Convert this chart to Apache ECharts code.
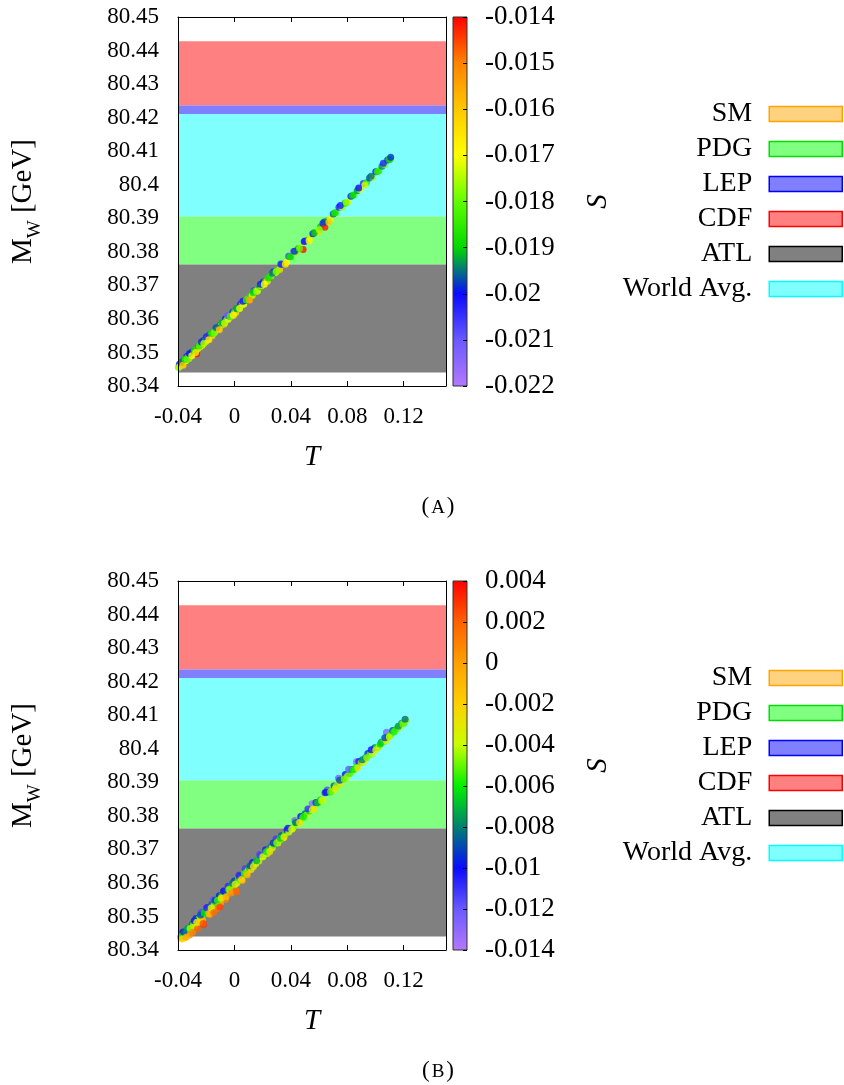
<!DOCTYPE html>
<html><head><meta charset="utf-8">
<script src="https://cdn.jsdelivr.net/npm/echarts@6/dist/echarts.min.js"></script>
<style>html,body{margin:0;padding:0;background:#fff}#c{width:844px;height:1085px}</style>
</head><body><div id="c"></div><script>
const FONT = '"Liberation Serif", "Times New Roman", serif';

// ---- axis ranges / ticks ----
const T_MIN = -0.04, T_MAX = 0.15, T_STEP = 0.04;
const M_MIN = 80.34, M_MAX = 80.45, M_STEP = 0.01;
const S_A = [-0.022, -0.014], S_A_STEP = 0.001;
const S_B = [-0.014, 0.004], S_B_STEP = 0.002;

// ---- bands (visible extents, GeV) ----
const bandNames = ['SM', 'PDG', 'LEP', 'CDF', 'ATL', 'World Avg.'];
const bandLow  = [null, 80.3762, 80.4211, 80.4237, 80.3440, 80.3906];
const bandHigh = [null, 80.3906, 80.4237, 80.4428, 80.3762, 80.4211];
const bandFill = ['#ffd280', '#80ff80', '#8080ff', '#ff8080', '#808080', '#80ffff'];
const bandEdge = ['#ffa500', '#00e000', '#0000ff', '#ff0000', '#000000', '#00ffff'];

// ---- palettes (bottom -> top of colour bar) ----
const paletteA = ['#b478ff', '#6a5aff', '#0a0aff', '#00d800', '#60ff00', '#ffff00', '#ffc800', '#ff8200', '#ff0000'];
const paletteB = ['#b478ff', '#6a5aff', '#0a0aff', '#008070', '#00f000', '#c8ff00', '#ffd000', '#ffa000', '#ff6000', '#ff0000'];

// ---- scatter points [T, M_W, S] ----
const scatterA = [
[-0.0398,80.3456,-0.0178],[-0.0390,80.3465,-0.0201],[-0.0383,80.3460,-0.0172],[-0.0375,80.3466,-0.0188],
[-0.0368,80.3464,-0.0166],[-0.0360,80.3476,-0.0196],[-0.0352,80.3475,-0.0180],[-0.0345,80.3475,-0.0170],
[-0.0338,80.3488,-0.0203],[-0.0330,80.3485,-0.0185],[-0.0322,80.3482,-0.0163],[-0.0315,80.3493,-0.0192],
[-0.0307,80.3492,-0.0176],[-0.0298,80.3502,-0.0199],[-0.0290,80.3497,-0.0168],[-0.0282,80.3504,-0.0183],
[-0.0268,80.3496,-0.0141],[-0.0262,80.3510,-0.0174],[-0.0255,80.3518,-0.0194],[-0.0246,80.3516,-0.0171],
[-0.0238,80.3523,-0.0186],[-0.0230,80.3521,-0.0165],[-0.0221,80.3535,-0.0201],[-0.0212,80.3533,-0.0179],
[-0.0203,80.3533,-0.0169],[-0.0195,80.3542,-0.0190],[-0.0186,80.3541,-0.0174],[-0.0177,80.3552,-0.0197],
[-0.0168,80.3551,-0.0183],[-0.0158,80.3550,-0.0162],[-0.0149,80.3560,-0.0188],[-0.0140,80.3560,-0.0173],
[-0.0131,80.3573,-0.0204],[-0.0122,80.3570,-0.0181],[-0.0112,80.3571,-0.0167],[-0.0103,80.3581,-0.0193],
[-0.0093,80.3581,-0.0177],[-0.0084,80.3586,-0.0186],[-0.0074,80.3584,-0.0158],[-0.0064,80.3600,-0.0200],
[-0.0054,80.3598,-0.0180],[-0.0044,80.3599,-0.0171],[-0.0034,80.3608,-0.0191],[-0.0023,80.3608,-0.0175],
[-0.0012,80.3620,-0.0198],[-0.0001,80.3620,-0.0184],[0.0010,80.3619,-0.0164],[0.0021,80.3630,-0.0189],
[0.0032,80.3632,-0.0176],[0.0043,80.3644,-0.0202],[0.0055,80.3643,-0.0182],[0.0066,80.3644,-0.0170],
[0.0078,80.3655,-0.0194],[0.0090,80.3657,-0.0178],[0.0102,80.3657,-0.0160],[0.0114,80.3668,-0.0187],
[0.0126,80.3670,-0.0173],[0.0139,80.3684,-0.0205],[0.0152,80.3683,-0.0181],[0.0165,80.3685,-0.0168],
[0.0178,80.3695,-0.0192],[0.0191,80.3698,-0.0176],[0.0205,80.3710,-0.0199],[0.0219,80.3711,-0.0185],
[0.0233,80.3712,-0.0165],[0.0247,80.3724,-0.0190],[0.0261,80.3728,-0.0179],[0.0276,80.3740,-0.0201],
[0.0291,80.3738,-0.0172],[0.0306,80.3747,-0.0187],[0.0321,80.3747,-0.0162],[0.0337,80.3762,-0.0195],
[0.0353,80.3766,-0.0182],[0.0369,80.3769,-0.0170],[0.0385,80.3787,-0.0206],[0.0401,80.3785,-0.0184],
[0.0418,80.3801,-0.0213],[0.0435,80.3798,-0.0177],[0.0452,80.3809,-0.0193],[0.0470,80.3811,-0.0167],
[0.0487,80.3807,-0.0141],[0.0503,80.3834,-0.0216],[0.0520,80.3835,-0.0188],[0.0538,80.3840,-0.0174],
[0.0556,80.3854,-0.0199],[0.0574,80.3857,-0.0180],[0.0592,80.3859,-0.0163],[0.0610,80.3874,-0.0191],
[0.0628,80.3885,-0.0202],[0.0641,80.3873,-0.0142],[0.0660,80.3893,-0.0185],[0.0680,80.3898,-0.0171],
[0.0700,80.3913,-0.0196],[0.0720,80.3917,-0.0183],[0.0741,80.3933,-0.0203],[0.0762,80.3933,-0.0176],
[0.0783,80.3945,-0.0190],[0.0804,80.3949,-0.0168],[0.0826,80.3966,-0.0199],[0.0848,80.3970,-0.0181],
[0.0870,80.3982,-0.0193],[0.0892,80.3986,-0.0172],[0.0914,80.4004,-0.0204],[0.0936,80.4007,-0.0186],
[0.0958,80.4020,-0.0197],[0.0980,80.4022,-0.0175],[0.1002,80.4039,-0.0201],[0.1024,80.4042,-0.0184],
[0.1046,80.4055,-0.0194],[0.1066,80.4060,-0.0179],[0.1086,80.4074,-0.0202],[0.1105,80.4076,-0.0183],
[-0.0394,80.3456,-0.0176],[-0.0379,80.3470,-0.0195],[-0.0364,80.3462,-0.0160],[-0.0349,80.3480,-0.0187],
[-0.0334,80.3479,-0.0181],[-0.0318,80.3497,-0.0200],[-0.0302,80.3490,-0.0171],[-0.0286,80.3506,-0.0190],
[-0.0275,80.3500,-0.0165],[-0.0250,80.3519,-0.0184],[-0.0234,80.3531,-0.0198],[-0.0217,80.3527,-0.0175],
[-0.0199,80.3547,-0.0203],[-0.0181,80.3538,-0.0166],[-0.0163,80.3557,-0.0189],[-0.0145,80.3558,-0.0179],
[-0.0126,80.3574,-0.0196],[-0.0107,80.3568,-0.0161],[-0.0088,80.3589,-0.0192],[-0.0069,80.3588,-0.0174],
[-0.0049,80.3610,-0.0210],[-0.0029,80.3608,-0.0183],[-0.0007,80.3611,-0.0168],[0.0015,80.3631,-0.0193],
[0.0037,80.3631,-0.0172],[0.0060,80.3653,-0.0201],[0.0084,80.3656,-0.0185],[0.0108,80.3656,-0.0155],
[0.0132,80.3679,-0.0190],[0.0158,80.3682,-0.0176],[0.0185,80.3703,-0.0199],[0.0212,80.3703,-0.0170],
[0.0240,80.3722,-0.0187],[0.0268,80.3736,-0.0194],[0.0298,80.3741,-0.0178],[0.0329,80.3764,-0.0203],
[0.0361,80.3763,-0.0165],[0.0393,80.3785,-0.0189],[0.0426,80.3802,-0.0198],[0.0461,80.3810,-0.0181],
[0.0495,80.3831,-0.0200],[0.0529,80.3833,-0.0169],[0.0565,80.3857,-0.0192],[0.0601,80.3866,-0.0177],
[0.0637,80.3889,-0.0197],[0.0670,80.3889,-0.0160],[0.0710,80.3916,-0.0188],[0.0751,80.3938,-0.0202],
[0.0793,80.3946,-0.0179],[0.0837,80.3968,-0.0190],[0.0881,80.3990,-0.0200],[0.0925,80.3999,-0.0173],
[0.0969,80.4025,-0.0195],[0.1013,80.4039,-0.0185],[0.1056,80.4064,-0.0203],[0.1096,80.4075,-0.0190],
[0.1108,80.4082,-0.0198]
];
const scatterB = [
[-0.0382,80.3437,-0.0052],[-0.0375,80.3436,-0.0031],[-0.0366,80.3453,-0.0098],[-0.0355,80.3438,-0.0012],
[-0.0346,80.3454,-0.0058],[-0.0337,80.3453,-0.0040],[-0.0328,80.3462,-0.0066],[-0.0318,80.3445,0.0006],
[-0.0309,80.3464,-0.0035],[-0.0300,80.3477,-0.0082],[-0.0290,80.3475,-0.0048],[-0.0281,80.3473,-0.0026],
[-0.0272,80.3494,-0.0104],[-0.0262,80.3463,0.0019],[-0.0253,80.3493,-0.0060],[-0.0244,80.3491,-0.0037],
[-0.0235,80.3512,-0.0115],[-0.0226,80.3490,-0.0009],[-0.0219,80.3477,0.0031],[-0.0210,80.3509,-0.0054],
[-0.0201,80.3517,-0.0072],[-0.0193,80.3526,-0.0100],[-0.0185,80.3514,-0.0029],[-0.0176,80.3506,0.0004],
[-0.0168,80.3526,-0.0046],[-0.0160,80.3537,-0.0086],[-0.0151,80.3550,-0.0120],[-0.0143,80.3533,-0.0033],
[-0.0134,80.3543,-0.0059],[-0.0125,80.3524,0.0012],[-0.0116,80.3546,-0.0041],[-0.0107,80.3562,-0.0097],
[-0.0099,80.3541,-0.0005],[-0.0090,80.3562,-0.0064],[-0.0081,80.3557,-0.0027],[-0.0072,80.3573,-0.0079],
[-0.0063,80.3551,0.0009],[-0.0054,80.3574,-0.0050],[-0.0045,80.3590,-0.0108],[-0.0036,80.3579,-0.0036],
[-0.0027,80.3577,-0.0015],[-0.0018,80.3593,-0.0068],[-0.0009,80.3592,-0.0043],[0.0000,80.3606,-0.0093],
[0.0009,80.3578,0.0015],[0.0018,80.3600,-0.0031],[0.0027,80.3610,-0.0057],[0.0037,80.3618,-0.0081],
[0.0046,80.3614,-0.0039],[0.0056,80.3607,-0.0002],[0.0066,80.3627,-0.0062],[0.0076,80.3642,-0.0112],
[0.0086,80.3630,-0.0034],[0.0096,80.3637,-0.0047],[0.0107,80.3645,-0.0072],[0.0118,80.3640,-0.0025],
[0.0129,80.3661,-0.0099],[0.0140,80.3655,-0.0052],[0.0151,80.3657,-0.0037],[0.0162,80.3667,-0.0064],
[0.0173,80.3665,-0.0032],[0.0185,80.3682,-0.0090],[0.0197,80.3678,-0.0044],[0.0209,80.3686,-0.0059],
[0.0221,80.3699,-0.0104],[0.0233,80.3688,-0.0029],[0.0245,80.3698,-0.0050],[0.0257,80.3708,-0.0076],
[0.0269,80.3705,-0.0036],[0.0282,80.3716,-0.0061],[0.0295,80.3731,-0.0111],[0.0308,80.3719,-0.0033],
[0.0321,80.3728,-0.0046],[0.0334,80.3741,-0.0085],[0.0347,80.3734,-0.0028],[0.0360,80.3745,-0.0055],
[0.0373,80.3758,-0.0096],[0.0386,80.3752,-0.0039],[0.0399,80.3763,-0.0062],[0.0412,80.3762,-0.0035],
[0.0428,80.3786,-0.0128],[0.0425,80.3770,-0.0048],[0.0440,80.3780,-0.0070],[0.0455,80.3778,-0.0031],
[0.0470,80.3798,-0.0101],[0.0485,80.3794,-0.0053],[0.0500,80.3806,-0.0082],[0.0515,80.3803,-0.0037],
[0.0530,80.3814,-0.0060],[0.0551,80.3836,-0.0131],[0.0545,80.3817,-0.0044],[0.0562,80.3820,-0.0027],
[0.0578,80.3840,-0.0094],[0.0594,80.3838,-0.0050],[0.0610,80.3847,-0.0066],[0.0626,80.3847,-0.0034],
[0.0642,80.3869,-0.0108],[0.0658,80.3877,-0.0117],[0.0674,80.3870,-0.0056],[0.0690,80.3874,-0.0039],
[0.0706,80.3889,-0.0086],[0.0722,80.3888,-0.0045],[0.0738,80.3912,-0.0124],[0.0754,80.3897,-0.0030],
[0.0770,80.3910,-0.0063],[0.0786,80.3923,-0.0098],[0.0802,80.3918,-0.0041],[0.0818,80.3926,-0.0054],
[0.0834,80.3938,-0.0081],[0.0850,80.3936,-0.0036],[0.0865,80.3961,-0.0130],[0.0866,80.3947,-0.0058],
[0.0882,80.3962,-0.0103],[0.0898,80.3958,-0.0047],[0.0914,80.3960,-0.0032],[0.0930,80.3974,-0.0072],
[0.0946,80.3986,-0.0095],[0.0962,80.3983,-0.0052],[0.0978,80.3986,-0.0038],[0.0994,80.4003,-0.0084],
[0.1010,80.4004,-0.0061],[0.1026,80.4007,-0.0043],[0.1042,80.4019,-0.0079],[0.1058,80.4021,-0.0049],
[0.1078,80.4049,-0.0127],[0.1074,80.4024,-0.0034],[0.1090,80.4036,-0.0068],[0.1106,80.4041,-0.0055],
[0.1122,80.4054,-0.0089],[0.1138,80.4052,-0.0046],[0.1154,80.4061,-0.0062],[0.1170,80.4063,-0.0039],
[0.1186,80.4076,-0.0075],[0.1202,80.4077,-0.0053],[0.1218,80.4084,-0.0044],
[-0.0378,80.3441,-0.0061],[-0.0370,80.3433,-0.0020],[-0.0360,80.3454,-0.0090],[-0.0342,80.3438,-0.0005],
[-0.0333,80.3463,-0.0075],[-0.0314,80.3464,-0.0044],[-0.0295,80.3453,0.0010],[-0.0285,80.3487,-0.0096],
[-0.0267,80.3483,-0.0039],[-0.0248,80.3483,-0.0017],[-0.0240,80.3504,-0.0088],[-0.0222,80.3479,0.0022],
[-0.0214,80.3510,-0.0063],[-0.0197,80.3526,-0.0109],[-0.0180,80.3509,-0.0011],[-0.0164,80.3525,-0.0035],
[-0.0147,80.3512,0.0016],[-0.0138,80.3548,-0.0092],[-0.0120,80.3548,-0.0056],[-0.0103,80.3528,0.0026],
[-0.0094,80.3554,-0.0031],[-0.0077,80.3576,-0.0101],[-0.0059,80.3559,-0.0008],[-0.0040,80.3580,-0.0049],
[-0.0022,80.3570,0.0005],[-0.0013,80.3599,-0.0084],[0.0005,80.3596,-0.0037],[0.0016,80.3574,0.0018],
[0.0033,80.3623,-0.0106],[0.0051,80.3610,-0.0021],[0.0071,80.3627,-0.0055],[0.0091,80.3624,-0.0010],
[0.0112,80.3651,-0.0088],[0.0135,80.3649,-0.0030],[0.0157,80.3666,-0.0070],[0.0179,80.3685,-0.0114],
[0.0203,80.3678,-0.0038],[0.0227,80.3693,-0.0059],[0.0251,80.3694,-0.0026],[0.0275,80.3719,-0.0092],
[0.0300,80.3720,-0.0047],[0.0326,80.3733,-0.0066],[0.0352,80.3737,-0.0031],[0.0379,80.3763,-0.0104],
[0.0406,80.3760,-0.0040],[0.0434,80.3780,-0.0081],[0.0462,80.3780,-0.0029],[0.0491,80.3798,-0.0058],
[0.0521,80.3820,-0.0109],[0.0553,80.3818,-0.0035],[0.0586,80.3839,-0.0073],[0.0618,80.3845,-0.0042],
[0.0650,80.3870,-0.0097],[0.0682,80.3872,-0.0051],[0.0714,80.3881,-0.0033],[0.0746,80.3906,-0.0088],
[0.0778,80.3910,-0.0047],[0.0810,80.3939,-0.0120],[0.0842,80.3937,-0.0060],[0.0874,80.3943,-0.0029],
[0.0906,80.3967,-0.0080],[0.0938,80.3973,-0.0045],[0.0970,80.3997,-0.0101],[0.1002,80.3996,-0.0036],
[0.1034,80.4014,-0.0065],[0.1066,80.4033,-0.0090],[0.1098,80.4035,-0.0041],[0.1130,80.4050,-0.0057],
[0.1162,80.4067,-0.0076],[0.1194,80.4074,-0.0049],[0.1210,80.4088,-0.0083]
];

// ---- layout ----
const PANEL_TOP = [17, 581];
const PLOT_LEFT = 178, PLOT_W = 268, PLOT_H = 369;
const CB_LEFT = 453, CB_W = 14;
const LEGEND_FIRST = 97, LEGEND_STEP = 35;

const fmt = d => v => { const r = parseFloat(v.toFixed(d)); return (r === 0 ? 0 : r).toString(); };

const grids = [], xAxes = [], yAxes = [], series = [], legends = [], visualMaps = [], graphics = [];
const axisLineStyle = { show: true, onZero: false, lineStyle: { color: '#000', width: 1 } };

[0, 1].forEach(p => {
  const top = PANEL_TOP[p];
  const gPlot = grids.length;
  grids.push({ left: PLOT_LEFT, top: top, width: PLOT_W, height: PLOT_H });
  const gCb = grids.length;
  grids.push({ left: CB_LEFT, top: top, width: CB_W, height: PLOT_H });

  const xBot = xAxes.length;
  xAxes.push({ gridIndex: gPlot, type: 'value', position: 'bottom', min: T_MIN, max: T_MAX, interval: T_STEP, z: 10,
    axisLine: axisLineStyle, axisTick: { show: true, inside: true, length: 5, lineStyle: { color: '#000' } },
    splitLine: { show: false }, showMaxLabel: false,
    axisLabel: { margin: 19, fontSize: 23, fontFamily: FONT, color: '#000',
      formatter: v => (Math.abs(v - T_MAX) < 1e-9 ? '' : fmt(2)(v)) },
    name: 'T', nameLocation: 'middle', nameGap: 57,
    nameTextStyle: { fontSize: 29, fontStyle: 'italic', fontFamily: FONT, color: '#000' } });
  xAxes.push({ gridIndex: gPlot, type: 'value', position: 'top', min: T_MIN, max: T_MAX, interval: T_STEP, z: 10,
    axisLine: axisLineStyle, axisTick: { show: true, inside: true, length: 5, lineStyle: { color: '#000' } },
    axisLabel: { show: false }, splitLine: { show: false } });
  const xCb = xAxes.length;
  xAxes.push({ gridIndex: gCb, type: 'value', min: 0, max: 1, show: false });

  const yLeft = yAxes.length;
  yAxes.push({ gridIndex: gPlot, type: 'value', position: 'left', min: M_MIN, max: M_MAX, interval: M_STEP, z: 10,
    axisLine: axisLineStyle, axisTick: { show: false }, splitLine: { show: false },
    axisLabel: { margin: 19, fontSize: 23, fontFamily: FONT, color: '#000', formatter: fmt(2) },
    name: '{m|M}{w|W}{m| [GeV]}', nameLocation: 'middle', nameGap: 133,
    nameTextStyle: { fontFamily: FONT, color: '#000', fontSize: 29,
      rich: { m: { fontSize: 29, fontFamily: FONT, lineHeight: 36, verticalAlign: 'top', color: '#000' },
              w: { fontSize: 19, fontFamily: FONT, lineHeight: 16, verticalAlign: 'bottom', color: '#000' } } } });
  yAxes.push({ gridIndex: gPlot, type: 'value', position: 'right', min: M_MIN, max: M_MAX, interval: M_STEP, z: 10,
    axisLine: axisLineStyle, axisTick: { show: false }, axisLabel: { show: false }, splitLine: { show: false } });
  const sRange = p === 0 ? S_A : S_B;
  const sStep = p === 0 ? S_A_STEP : S_B_STEP;
  const yCb = yAxes.length;
  yAxes.push({ gridIndex: gCb, type: 'value', position: 'right', min: sRange[0], max: sRange[1], interval: sStep, z: 10,
    axisLine: { show: false, onZero: false }, axisTick: { show: true, inside: true, length: 4, lineStyle: { color: '#000' } },
    splitLine: { show: false },
    axisLabel: { margin: 18, fontSize: 27, fontFamily: FONT, color: '#000', formatter: fmt(3) },
    name: 'S', nameLocation: 'middle', nameGap: 117,
    nameTextStyle: { fontSize: 29, fontStyle: 'italic', fontFamily: FONT, color: '#000' } });

  // bands
  bandNames.forEach((nm, i) => {
    const data = bandLow[i] == null ? [] : [[T_MIN, bandLow[i], T_MAX, bandHigh[i]]];
    series.push({ type: 'custom', name: nm, xAxisIndex: xBot, yAxisIndex: yLeft, z: 1,
      itemStyle: { color: bandFill[i], borderColor: bandEdge[i] },
      encode: { x: [0, 2], y: [1, 3] }, data: data, silent: true,
      renderItem: (params, api) => {
        const a = api.coord([api.value(0), api.value(3)]);
        const b = api.coord([api.value(2), api.value(1)]);
        return { type: 'rect', shape: { x: a[0], y: a[1], width: b[0] - a[0], height: b[1] - a[1] },
          style: { fill: bandFill[i] } };
      } });
    legends.push({ data: [{ name: nm, itemStyle: { color: bandFill[i], borderColor: bandEdge[i], borderWidth: 1.5 } }],
      right: 1, top: top + LEGEND_FIRST + LEGEND_STEP * i - 14, orient: 'vertical', align: 'right', padding: 0,
      itemWidth: 73, itemHeight: 15, selectedMode: false, icon: 'rect',
      textStyle: { fontSize: 28, fontFamily: FONT, color: '#000', padding: [0, 12, 0, 0] } });
  });
  // scatter
  const sIdx = series.length;
  series.push({ type: 'scatter', xAxisIndex: xBot, yAxisIndex: yLeft, z: 3, symbolSize: 7,
    data: p === 0 ? scatterA : scatterB, silent: true });
  visualMaps.push({ type: 'continuous', show: false, seriesIndex: sIdx, dimension: 2,
    min: sRange[0], max: sRange[1], inRange: { color: p === 0 ? paletteA : paletteB } });
  // colour bar
  const pal = p === 0 ? paletteA : paletteB;
  series.push({ type: 'custom', xAxisIndex: xCb, yAxisIndex: yCb, z: 2, silent: true,
    encode: { x: [0, 2], y: [1, 3] }, data: [[0, sRange[0], 1, sRange[1]]],
    renderItem: (params, api) => {
      const a = api.coord([api.value(0), api.value(3)]);
      const b = api.coord([api.value(2), api.value(1)]);
      const stops = pal.map((c, k) => ({ offset: k / (pal.length - 1), color: c }));
      return { type: 'rect', shape: { x: a[0], y: a[1], width: b[0] - a[0], height: b[1] - a[1] },
        style: { fill: new echarts.graphic.LinearGradient(0, 1, 0, 0, stops), stroke: '#333', lineWidth: 1 } };
    } });
  // caption
  graphics.push({ type: 'text', x: 438, y: top + PLOT_H + 121,
    style: { text: p === 0 ? '{p|(}{a|A}{p|)}' : '{p|(}{a|B}{p|)}', align: 'center', verticalAlign: 'middle',
      rich: { p: { fontSize: 23, fontFamily: FONT, fill: '#000' },
              a: { fontSize: 19, fontFamily: FONT, fill: '#000', padding: [2, 2, 0, 2] } } } });
});

const chart = echarts.init(document.getElementById('c'), null, { renderer: 'canvas' });
chart.setOption({
  animation: false, backgroundColor: '#fff',
  grid: grids, xAxis: xAxes, yAxis: yAxes, series: series, legend: legends,
  visualMap: visualMaps, graphic: graphics
});
</script></body></html>
